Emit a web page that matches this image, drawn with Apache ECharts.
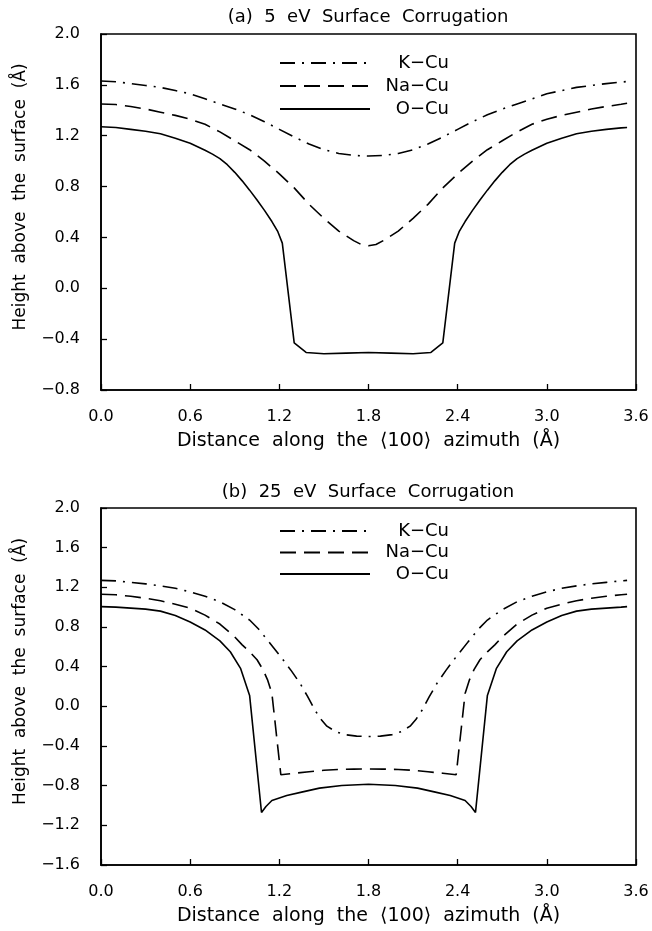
<!DOCTYPE html>
<html><head><meta charset="utf-8">
<script src="https://cdn.jsdelivr.net/npm/echarts@6/dist/echarts.min.js"></script>
<style>html,body{margin:0;padding:0;background:#fff}#c{width:652px;height:931px}</style>
</head><body><div id="c"></div>
<script>
// ---------- data ----------
const seriesNames = ['K\u2212Cu', 'Na\u2212Cu', 'O\u2212Cu'];
const titleA = '(a)  5  eV  Surface  Corrugation';
const titleB = '(b)  25  eV  Surface  Corrugation';
const xTitle = 'Distance  along  the  \u27E8100\u27E9  azimuth  (\u00C5)';
const yTitle = 'Height  above  the  surface  (\u00C5)';

// panel (a) 5 eV
const aKCuX = [0, 0.1, 0.2, 0.3, 0.4, 0.5, 0.6, 0.7, 0.8, 0.9, 1.0, 1.1, 1.2, 1.3, 1.4, 1.5, 1.6, 1.7, 1.8, 1.9, 2.0, 2.1, 2.2, 2.3, 2.4, 2.5, 2.6, 2.7, 2.8, 2.9, 3.0, 3.1, 3.2, 3.3, 3.4, 3.5, 3.54];
const aKCuY = [1.63, 1.625, 1.61, 1.595, 1.58, 1.555, 1.53, 1.49, 1.45, 1.41, 1.365, 1.31, 1.25, 1.19, 1.135, 1.09, 1.06, 1.045, 1.04, 1.045, 1.06, 1.09, 1.135, 1.19, 1.25, 1.31, 1.365, 1.41, 1.45, 1.49, 1.53, 1.555, 1.58, 1.595, 1.61, 1.622, 1.626];
const aNaCuX = [0, 0.1, 0.2, 0.3, 0.4, 0.5, 0.6, 0.7, 0.8, 0.9, 1.0, 1.1, 1.2, 1.3, 1.4, 1.5, 1.6, 1.7, 1.75, 1.8, 1.85, 1.9, 2.0, 2.1, 2.2, 2.3, 2.4, 2.5, 2.6, 2.7, 2.8, 2.9, 3.0, 3.1, 3.2, 3.3, 3.4, 3.5, 3.54];
const aNaCuY = [1.45, 1.445, 1.43, 1.41, 1.385, 1.36, 1.33, 1.29, 1.23, 1.16, 1.09, 1.0, 0.90, 0.79, 0.66, 0.55, 0.45, 0.375, 0.345, 0.335, 0.345, 0.375, 0.45, 0.55, 0.66, 0.79, 0.90, 1.0, 1.09, 1.16, 1.23, 1.29, 1.33, 1.36, 1.385, 1.41, 1.43, 1.447, 1.455];
const aOCuX = [0, 0.1, 0.2, 0.3, 0.4, 0.5, 0.6, 0.7, 0.75, 0.8, 0.85, 0.9, 0.95, 1.0, 1.05, 1.1, 1.15, 1.19, 1.22, 1.30, 1.38, 1.5, 1.65, 1.8, 1.95, 2.1, 2.22, 2.30, 2.38, 2.41, 2.45, 2.5, 2.55, 2.6, 2.65, 2.7, 2.75, 2.8, 2.85, 2.9, 3.0, 3.1, 3.2, 3.3, 3.4, 3.5, 3.54];
const aOCuY = [1.27, 1.265, 1.25, 1.235, 1.215, 1.18, 1.14, 1.085, 1.055, 1.02, 0.972, 0.912, 0.845, 0.772, 0.695, 0.613, 0.525, 0.445, 0.355, -0.43, -0.505, -0.515, -0.51, -0.505, -0.51, -0.515, -0.505, -0.43, 0.355, 0.445, 0.525, 0.613, 0.695, 0.772, 0.845, 0.912, 0.972, 1.02, 1.055, 1.085, 1.14, 1.18, 1.215, 1.235, 1.25, 1.262, 1.265];

// panel (b) 25 eV
const bKCuX = [0, 0.1, 0.2, 0.3, 0.4, 0.5, 0.6, 0.7, 0.8, 0.9, 1.0, 1.06, 1.13, 1.21, 1.28, 1.34, 1.39, 1.44, 1.48, 1.52, 1.58, 1.64, 1.72, 1.8, 1.88, 1.96, 2.02, 2.08, 2.12, 2.16, 2.21, 2.26, 2.32, 2.39, 2.47, 2.54, 2.6, 2.7, 2.8, 2.9, 3.0, 3.1, 3.2, 3.3, 3.4, 3.5, 3.54];
const bKCuY = [1.27, 1.265, 1.25, 1.235, 1.215, 1.19, 1.155, 1.11, 1.055, 0.975, 0.87, 0.78, 0.65, 0.50, 0.36, 0.23, 0.10, -0.04, -0.13, -0.20, -0.255, -0.285, -0.30, -0.305, -0.30, -0.285, -0.255, -0.20, -0.13, -0.04, 0.10, 0.23, 0.36, 0.50, 0.65, 0.78, 0.87, 0.975, 1.055, 1.11, 1.155, 1.19, 1.215, 1.235, 1.25, 1.265, 1.27];
const bNaCuX = [0, 0.1, 0.2, 0.3, 0.4, 0.5, 0.6, 0.7, 0.8, 0.9, 0.95, 1.0, 1.05, 1.09, 1.12, 1.15, 1.21, 1.3, 1.4, 1.5, 1.6, 1.7, 1.8, 1.9, 2.0, 2.1, 2.2, 2.3, 2.39, 2.45, 2.48, 2.51, 2.55, 2.6, 2.65, 2.7, 2.8, 2.9, 3.0, 3.1, 3.2, 3.3, 3.4, 3.5, 3.54];
const bNaCuY = [1.13, 1.125, 1.11, 1.09, 1.065, 1.03, 0.99, 0.92, 0.83, 0.70, 0.62, 0.55, 0.47, 0.37, 0.27, 0.13, -0.69, -0.675, -0.66, -0.645, -0.637, -0.633, -0.632, -0.633, -0.637, -0.645, -0.66, -0.675, -0.69, 0.13, 0.27, 0.37, 0.47, 0.55, 0.62, 0.70, 0.83, 0.92, 0.99, 1.03, 1.065, 1.09, 1.11, 1.125, 1.13];
const bOCuX = [0, 0.1, 0.2, 0.3, 0.4, 0.5, 0.6, 0.7, 0.8, 0.87, 0.94, 1.0, 1.08, 1.11, 1.15, 1.25, 1.35, 1.47, 1.62, 1.8, 1.98, 2.13, 2.25, 2.35, 2.45, 2.49, 2.52, 2.6, 2.66, 2.73, 2.8, 2.9, 3.0, 3.1, 3.2, 3.3, 3.4, 3.5, 3.54];
const bOCuY = [1.005, 1.0, 0.99, 0.98, 0.96, 0.915, 0.85, 0.77, 0.66, 0.55, 0.38, 0.11, -1.07, -1.01, -0.95, -0.90, -0.865, -0.825, -0.798, -0.785, -0.798, -0.825, -0.865, -0.90, -0.95, -1.01, -1.07, 0.11, 0.38, 0.55, 0.66, 0.77, 0.85, 0.915, 0.96, 0.98, 0.99, 1.0, 1.005];

// axis ranges
const xMin = 0, xMax = 3.6, xStep = 0.6;
const yAMin = -0.8, yAMax = 2.0, yBMin = -1.6, yBMax = 2.0, yStep = 0.4;

// ---------- chart ----------
const FONT = 'DejaVu Sans';
const zip = (xs, ys) => xs.map((x, i) => [x, ys[i]]);
const fmt = v => { const s = (Math.round(v * 10) / 10).toFixed(1); return s.replace('-', '\u2212'); };

function xAxisCfg(gi) {
  return {
    type: 'value', gridIndex: gi, min: xMin, max: xMax, interval: xStep,
    name: xTitle, nameLocation: 'middle', nameGap: 42,
    nameTextStyle: { fontFamily: FONT, fontSize: 19, color: '#000' },
    axisLine: { show: true, onZero: false, lineStyle: { color: '#000', width: 1.6 } },
    axisTick: { show: true, inside: true, length: 6, lineStyle: { color: '#000', width: 1.3 } },
    axisLabel: { margin: 19, fontFamily: FONT, fontSize: 16, color: '#000', formatter: fmt },
    splitLine: { show: false }
  };
}
function yAxisCfg(gi, mn, mx) {
  return {
    type: 'value', gridIndex: gi, min: mn, max: mx, interval: yStep,
    name: yTitle, nameLocation: 'middle', nameGap: 72,
    nameTextStyle: { fontFamily: FONT, fontSize: 17, color: '#000', padding: [0, 0, 0, 30] },
    axisLine: { show: true, onZero: false, lineStyle: { color: '#000', width: 1.6 } },
    axisTick: { show: true, inside: true, length: 6, lineStyle: { color: '#000', width: 1.3 } },
    axisLabel: { margin: 21, fontFamily: FONT, fontSize: 16, color: '#000', formatter: fmt },
    splitLine: { show: false }
  };
}
const styles = [
  { color: '#000', width: 1.6, type: [15, 7, 2, 7] },
  { color: '#000', width: 1.6, type: [16, 8] },
  { color: '#000', width: 1.6, type: 'solid' }
];
function lineSeries(name, gi, data, st) {
  return { name, type: 'line', xAxisIndex: gi, yAxisIndex: gi, data, symbol: 'none', showSymbol: false,
    lineStyle: st, itemStyle: { color: '#000' }, animation: false };
}
function legendCfg(top, gap) {
  return {
    data: seriesNames, orient: 'vertical', left: 279, top, itemWidth: 90, itemHeight: 14, itemGap: gap,
    padding: 0, selectedMode: false,
    itemStyle: { color: 'transparent', borderColor: 'transparent', borderWidth: 0, opacity: 0 },
    formatter: n => '{t|' + n + '}',
    textStyle: { color: '#000', rich: { t: { width: 74, height: 14, lineHeight: 14, align: 'right', fontFamily: FONT, fontSize: 18, color: '#000' } } }
  };
}

const chart = echarts.init(document.getElementById('c'), null, { renderer: 'canvas' });
chart.setOption({
  animation: false,
  backgroundColor: '#fff',
  color: ['#000'],
  title: [
    { text: titleA, left: 363, top: 3, textAlign: 'center', textStyle: { fontFamily: FONT, fontSize: 18, fontWeight: 'normal', color: '#000' } },
    { text: titleB, left: 363, top: 478, textAlign: 'center', textStyle: { fontFamily: FONT, fontSize: 18, fontWeight: 'normal', color: '#000' } }
  ],
  legend: [legendCfg(54, 5), legendCfg(522, 3.5)],
  grid: [
    { left: 101, top: 34, width: 535, height: 356, show: true, borderColor: '#000', borderWidth: 1.6, containLabel: false },
    { left: 101, top: 508, width: 535, height: 357, show: true, borderColor: '#000', borderWidth: 1.6, containLabel: false }
  ],
  xAxis: [xAxisCfg(0), xAxisCfg(1)],
  yAxis: [yAxisCfg(0, yAMin, yAMax), yAxisCfg(1, yBMin, yBMax)],
  series: [
    lineSeries(seriesNames[0], 0, zip(aKCuX, aKCuY), styles[0]),
    lineSeries(seriesNames[1], 0, zip(aNaCuX, aNaCuY), styles[1]),
    lineSeries(seriesNames[2], 0, zip(aOCuX, aOCuY), styles[2]),
    lineSeries(seriesNames[0], 1, zip(bKCuX, bKCuY), styles[0]),
    lineSeries(seriesNames[1], 1, zip(bNaCuX, bNaCuY), styles[1]),
    lineSeries(seriesNames[2], 1, zip(bOCuX, bOCuY), styles[2])
  ]
});
</script></body></html>
